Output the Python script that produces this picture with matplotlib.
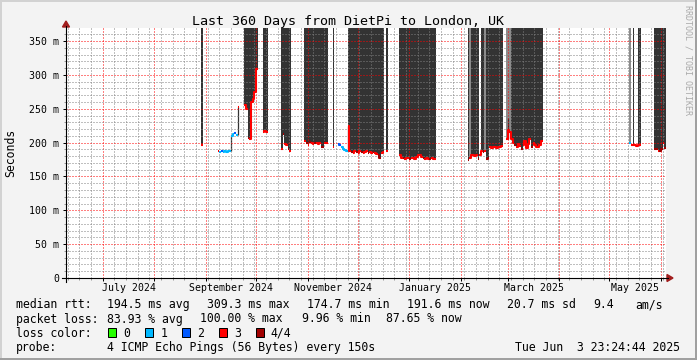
import matplotlib
matplotlib.use('Agg')
import matplotlib.pyplot as plt
import matplotlib.dates as mdates
import matplotlib.transforms as mtransforms
from matplotlib.patches import Rectangle, Polygon
from matplotlib.lines import Line2D
from matplotlib.ticker import MultipleLocator, FuncFormatter
import numpy as np
import pandas as pd

plt.rcParams['font.family'] = 'DejaVu Sans Mono'

W, H = 697, 360
BG = '#f3f3f3'

end_time = pd.Timestamp('2025-06-03 23:24:44')
start_time = end_time - pd.Timedelta(days=360)
y_top = 369.3

# median rtt (ms), one value per day, in runs of consecutive days
run_start = ['2024-08-29', '2024-09-08', '2024-09-16', '2024-09-20', '2024-09-24',
             '2024-10-05', '2024-10-16', '2024-10-30', '2024-11-16', '2024-11-19',
             '2024-11-25', '2024-12-18', '2024-12-26', '2025-02-05', '2025-02-28',
             '2025-05-13', '2025-05-28']
run_ms = [
    [197],
    [188, 186, 187, 186, 188, 186, 188, 187],
    [210, 212, 214, 211],
    [252],
    [256, 250, 207, 206, 260, 265, 275, 309],
    [216, 217, 215],
    [191, 213, 198, 196, 190, 188],
    [203, 200, 197, 201, 199, 198, 200, 199, 198, 200, 193, 194, 199, 200],
    [193],
    [198, 197, 194, 191, 189, 188],
    [224, 188, 186, 185, 187, 186, 184, 187, 186, 184, 186, 187, 185, 186, 184, 186,
     185, 183, 182, 177, 185, 186],
    [187],
    [182, 178, 177, 176, 177, 178, 176, 177, 178, 176, 179, 182, 181, 179, 177, 176,
     177, 176, 176, 177, 176, 176],
    [174, 177, 181, 182, 180, 181, 176, 182, 188, 186, 187, 176, 177, 193, 192, 194,
     193, 192, 194, 193, 195],
    [205, 218, 216, 205, 200, 196, 193, 198, 195, 190, 196, 203, 192, 198, 206, 194,
     199, 196, 193, 194, 197, 202],
    [199, 197, 196, 196, 195, 196, 196],
    [191, 190, 188, 187, 190, 200, 192],
]
# lost pings out of 4 for each day
run_loss = [
    [3],
    [3, 1, 2, 1, 1, 1, 1, 1],
    [1, 1, 2, 1],
    [3],
    [3, 3, 4, 3, 3, 3, 3, 3],
    [3, 3, 3],
    [3, 4, 3, 3, 4, 3],
    [3, 4, 3, 4, 3, 3, 4, 3, 3, 3, 4, 4, 3, 3],
    [3],
    [2, 2, 1, 1, 1, 1],
    [3, 3, 4, 3, 3, 4, 3, 3, 4, 3, 3, 3, 4, 3, 3, 4, 3, 3, 4, 4, 3, 3],
    [3],
    [3, 3, 4, 3, 3, 3, 4, 3, 3, 3, 3, 3, 3, 3, 4, 3, 3, 3, 4, 3, 3, 3],
    [4, 3, 3, 3, 3, 3, 4, 3, 3, 4, 3, 4, 4, 3, 3, 3, 3, 3, 3, 3, 3],
    [3, 3, 3, 3, 3, 4, 3, 3, 3, 4, 3, 3, 3, 3, 3, 4, 3, 3, 3, 3, 3, 3],
    [1, 3, 3, 3, 3, 3, 3],
    [4, 4, 3, 4, 4, 3, 4],
]

# smoke (lost pings) above the median
smoke_start = ['2024-08-29', '2024-09-24', '2024-10-05', '2024-10-16', '2024-10-30',
               '2024-11-16', '2024-11-25', '2024-12-18', '2024-12-26', '2025-02-05',
               '2025-02-06', '2025-02-07', '2025-02-13', '2025-02-15', '2025-02-16',
               '2025-02-28', '2025-03-03', '2025-05-13', '2025-05-15', '2025-05-18',
               '2025-05-28']
smoke_end = ['2024-08-30', '2024-10-02', '2024-10-08', '2024-10-22', '2024-11-13',
             '2024-11-17', '2024-12-17', '2024-12-19', '2025-01-17', '2025-02-06',
             '2025-02-07', '2025-02-12', '2025-02-15', '2025-02-16', '2025-02-26',
             '2025-03-03', '2025-03-22', '2025-05-14', '2025-05-16', '2025-05-20',
             '2025-06-04']
smoke_shade = ['dark', 'dark', 'dark', 'dark', 'dark', 'dark', 'dark', 'dark', 'dark',
               'dark', 'light', 'dark', 'dark', 'light', 'dark', 'light', 'dark',
               'light', 'dark', 'dark', 'dark']

# thin smoke between single pings
conn_time = ['2024-09-16', '2024-09-20', '2024-11-25', '2025-03-01']
conn_lo = [187, 211, 188, 206]
conn_hi = [211, 252, 224, 236]

loss_colors = ['#26ff00', '#00b8ff', '#0059ff', '#ff0000', '#a10000']
loss_labels = ['0', '1', '2', '3', '4/4']
shade_colors = {'dark': '#333333', 'light': '#8c8c8c'}

month_labels = ['July 2024', 'September 2024', 'November 2024', 'January 2025',
                'March 2025', 'May 2025']
month_label_start = ['2024-07-01', '2024-09-01', '2024-11-01', '2025-01-01',
                     '2025-03-01', '2025-05-01']


def fx(px):
    return px / W


def fy(py):
    return 1 - py / H


# all daily samples in one place
day_t = pd.DatetimeIndex(np.concatenate(
    [pd.date_range(s, periods=len(v), freq='D').values for s, v in zip(run_start, run_ms)]))
day_v = np.concatenate([np.array(v, float) for v in run_ms])

fig = plt.figure(figsize=(W / 100, H / 100), dpi=100, facecolor=BG)
ax = fig.add_axes([fx(66), fy(278), 600 / W, 250 / H])
ax.set_facecolor('white')
ax.set_xlim(mdates.date2num(start_time), mdates.date2num(end_time))
ax.set_ylim(0, y_top)

for s, e, shade in zip(smoke_start, smoke_end, smoke_shade):
    s, e = pd.Timestamp(s), pd.Timestamp(e)
    sel = (day_t >= s) & (day_t < e)
    t = list(day_t[sel]) + [e]
    v = list(day_v[sel])
    v = v + [v[-1]]
    ax.fill_between(mdates.date2num(t), v, y_top + 20, step='post',
                    color=shade_colors[shade], lw=0, zorder=1)

ax.vlines(mdates.date2num(pd.DatetimeIndex(conn_time)), conn_lo, conn_hi,
          color='#333333', lw=0.9, zorder=1.5)

for s, vals, losses in zip(run_start, run_ms, run_loss):
    x = mdates.date2num(pd.date_range(s, periods=len(vals) + 1, freq='D'))
    v = np.array(vals + [vals[-1]], float)
    l = np.array(losses + [losses[-1]])
    for k in range(5):
        if not (l == k).any():
            continue
        y = np.where(l == k, v, np.nan)
        ax.plot(x, y, drawstyle='steps-post', color=loss_colors[k], lw=1.5,
                solid_capstyle='butt', zorder=3)

# grid
ax.xaxis.set_major_locator(mdates.MonthLocator())
ax.xaxis.set_minor_locator(mdates.WeekdayLocator(byweekday=mdates.MO))
ax.yaxis.set_major_locator(MultipleLocator(50))
ax.yaxis.set_minor_locator(MultipleLocator(10))
ax.set_axisbelow(False)
ax.grid(which='minor', color=(0.5, 0.5, 0.5, 0.22), lw=0.72, ls=(0, (1, 2)))
ax.grid(which='major', color=(1, 0, 0, 0.28), lw=0.72, ls=(0, (1, 2)))
ax.yaxis.set_major_formatter(FuncFormatter(lambda v, p: '0' if v == 0 else f'{int(v)} m'))
ax.tick_params(which='major', length=2.2, width=0.72, color='black', labelsize=7.1, pad=2.7)
ax.tick_params(which='minor', length=1.1, width=0.72, color='#999999')
ax.tick_params(axis='x', labelbottom=False)
for sp in ax.spines.values():
    sp.set_visible(False)

# axes with arrows
fig.add_artist(Line2D([fx(62), fx(668)], [fy(278), fy(278)], color='black', lw=0.8))
fig.add_artist(Line2D([fx(66), fx(66)], [fy(282), fy(26)], color='black', lw=0.8))
fig.add_artist(Polygon([[fx(667), fy(274.5)], [fx(673), fy(278)], [fx(667), fy(281.5)]],
                       closed=True, transform=fig.transFigure, color='#a11d1d'))
fig.add_artist(Polygon([[fx(62.5), fy(27)], [fx(66), fy(21)], [fx(69.5), fy(27)]],
                       closed=True, transform=fig.transFigure, color='#a11d1d'))

# month labels centred on the month
trans = mtransforms.blended_transform_factory(ax.transData, fig.transFigure)
for lab, s in zip(month_labels, month_label_start):
    a = pd.Timestamp(s)
    b = a + pd.offsets.MonthBegin(1)
    mid = (mdates.date2num(a) + mdates.date2num(b)) / 2
    ax.text(mid, fy(290.8), lab, transform=trans, ha='center', va='baseline', fontsize=7.1)

fig.text(0.5, fy(24.5), 'Last 360 Days from DietPi to London, UK', ha='center',
         va='baseline', fontsize=9.6)
fig.text(fx(11), fy(153), 'Seconds', rotation=90, ha='center', va='center', fontsize=8.3)
fig.text(fx(688), fy(5), 'RRDTOOL / TOBI OETIKER', rotation=270, ha='center', va='top',
         fontsize=6, color='#aaaaaa')

# legend
fs = 8.3
rows = [
    (308, [(16, 'median rtt:'), (107.3, '194.5 ms avg'), (207.3, '309.3 ms max'),
           (307.3, '174.7 ms min'), (406.7, '191.6 ms now'), (507.3, '20.7 ms sd'),
           (593.3, '9.4'), (635, 'am/s')]),
    (322.5, [(16, 'packet loss:'), (107.3, '83.93 % avg'), (200, '100.00 % max'),
             (302, '9.96 % min'), (385.7, '87.65 % now')]),
    (336.7, [(16, 'loss color:')]),
    (350.8, [(16, 'probe:'), (107.3, '4 ICMP Echo Pings (56 Bytes) every 150s')]),
]
for yb, items in rows:
    for xp, txt in items:
        fig.text(fx(xp), fy(yb), txt, ha='left', va='baseline', fontsize=fs)
fig.text(fx(680), fy(350.8), 'Tue Jun  3 23:24:44 2025', ha='right', va='baseline', fontsize=fs)

for i, (c, lab) in enumerate(zip(loss_colors, loss_labels)):
    x0 = 108 + i * 36.9
    fig.add_artist(Rectangle((fx(x0), fy(336.5)), 8 / W, 8.5 / H, facecolor=c,
                             edgecolor='black', lw=0.72, transform=fig.transFigure))
    fig.text(fx(x0 + 15.3), fy(336.7), lab, ha='left', va='baseline', fontsize=fs)

# frame
fig.add_artist(Rectangle((0, 1 - 2 / H), 1, 2 / H, color='#d2d2d2', lw=0, transform=fig.transFigure))
fig.add_artist(Rectangle((0, 0), 2 / W, 1, color='#d2d2d2', lw=0, transform=fig.transFigure))
fig.add_artist(Rectangle((1 - 2 / W, 0), 2 / W, 1, color='#a0a0a0', lw=0, transform=fig.transFigure))
fig.add_artist(Rectangle((0, 0), 1, 2 / H, color='#a0a0a0', lw=0, transform=fig.transFigure))

fig.savefig('out.png', dpi=100, facecolor=BG)
